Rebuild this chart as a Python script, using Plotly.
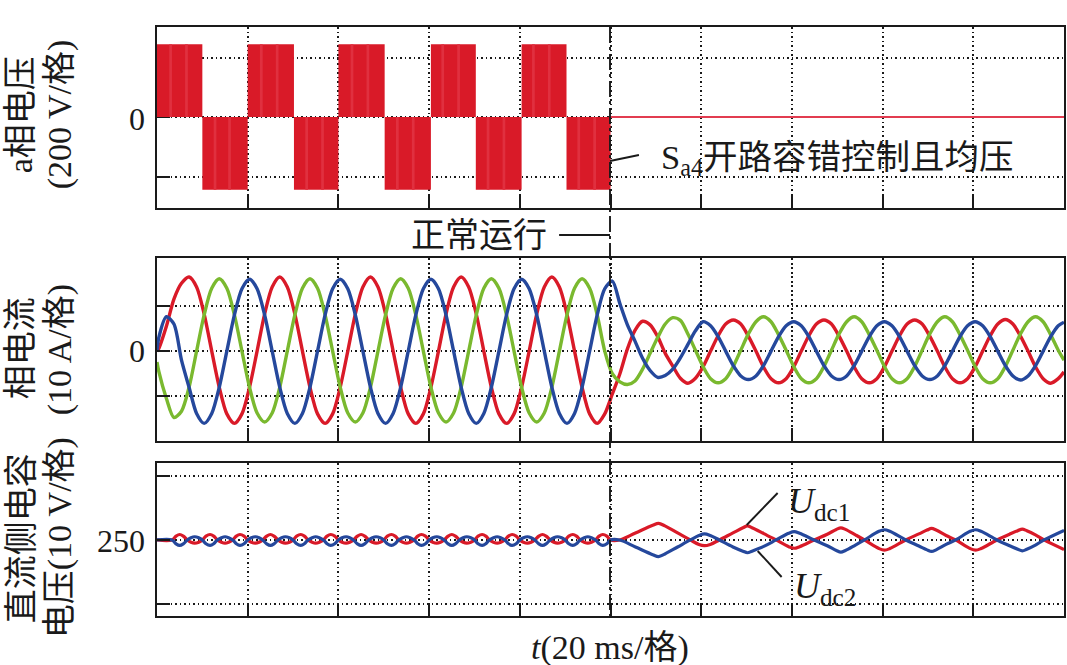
import plotly.graph_objects as go
from plotly.subplots import make_subplots

# a-phase voltage blocks, ms edges
block_edges = [0, 10, 20, 30.2, 40, 50.2, 60.4, 70.3, 80.4, 90.3, 100]
block_volts = [245, -245, 245, -245, 245, -245, 245, -245, 245, -245]
stripe_t = [3, 6.5, 12.8, 16, 23, 26.5, 33, 36.5, 43, 46.5, 53, 56.5, 63, 66.5, 73, 76.5, 83, 86.5, 93, 96.5]
stripe_v = [245, 245, -245, -245, 245, 245, -245, -245, 245, 245, -245, -245, 245, 245, -245, -245, 245, 245, -245, -245]
fault_t = [100, 200]
fault_v = [0, 0]

# phase currents, one row per 20 ms period
current_t = [
    0,
    0.4, 2.07, 3.73, 5.4, 7.07, 8.73, 10.4, 12.07, 13.73, 15.4, 17.07, 18.73,
    20.4, 22.07, 23.73, 25.4, 27.07, 28.73, 30.4, 32.07, 33.73, 35.4, 37.07, 38.73,
    40.4, 42.07, 43.73, 45.4, 47.07, 48.73, 50.4, 52.07, 53.73, 55.4, 57.07, 58.73,
    60.4, 62.07, 63.73, 65.4, 67.07, 68.73, 70.4, 72.07, 73.73, 75.4, 77.07, 78.73,
    80.4, 82.07, 83.73, 85.4, 87.07, 88.73, 90.4, 92.07, 93.73, 95.4, 97.07, 98.73,
    100.4, 102.07, 103.73, 105.4, 107.07, 108.73, 110.4, 112.07, 113.73, 115.4, 117.07, 118.73,
    120.4, 122.07, 123.73, 125.4, 127.07, 128.73, 130.4, 132.07, 133.73, 135.4, 137.07, 138.73,
    140.4, 142.07, 143.73, 145.4, 147.07, 148.73, 150.4, 152.07, 153.73, 155.4, 157.07, 158.73,
    160.4, 162.07, 163.73, 165.4, 167.07, 168.73, 170.4, 172.07, 173.73, 175.4, 177.07, 178.73,
    180.4, 182.07, 183.73, 185.4, 187.07, 188.73, 190.4, 192.07, 193.73, 195.4, 197.07, 198.73,
    200,
]
current_a = [
    0,
    0.6, 5.5, 11.5, 15, 16.4, 14.2, 8.2, 0, -8, -13.9, -16, -13.9,
    -8, 0, 8.2, 14.2, 16.4, 14.2, 8.2, 0, -8, -13.9, -16, -13.9,
    -8, 0, 8.2, 14.2, 16.4, 14.2, 8.2, 0, -8, -13.9, -16, -13.9,
    -8, 0, 8.2, 14.2, 16.4, 14.2, 8.2, 0, -8, -13.9, -16, -13.9,
    -8, 0, 8.2, 14.2, 16.4, 14.2, 8.2, 0, -8, -13.9, -16, -13.9,
    -9.5, -5, 0.5, 4.6, 6.6, 5.8, 3.2, -0.5, -3.3, -6, -7.1, -6,
    -3.5, 0, 3.4, 6, 6.9, 6, 3.3, 0, -3.5, -6.1, -7, -6.1,
    -3.5, 0, 3.4, 6, 6.9, 6, 3.3, 0, -3.5, -6.1, -7, -6.1,
    -3.5, 0, 3.4, 6, 6.9, 6, 3.3, 0, -3.5, -6.1, -7, -6.1,
    -3.5, 0, 3.4, 6, 7, 6, 3.3, 0, -3.5, -6.1, -7.1, -6.1,
    -4.6,
]
current_b = [
    -2.4,
    -4.5, -10.5, -14.7, -13.3, -8, 0, 8, 13.9, 16, 13.9, 8, 0,
    -8, -13.7, -15.7, -13.7, -8, 0, 8, 13.9, 16, 13.9, 8, 0,
    -8, -13.7, -15.7, -13.7, -8, 0, 8, 13.9, 16, 13.9, 8, 0,
    -8, -13.7, -15.7, -13.7, -8, 0, 8, 13.9, 16, 13.9, 8, 0,
    -8, -13.7, -15.7, -13.7, -8, 0, 8, 13.9, 16, 13.9, 8, 0,
    -5, -6.8, -7.4, -6.6, -4, -0.5, 3, 6, 7.4, 6.8, 3.8, 0.2,
    -3.4, -6.1, -7, -6.1, -3.4, 0.2, 3.8, 6.5, 7.6, 6.5, 3.6, 0.2,
    -3.4, -6.1, -7, -6.1, -3.4, 0.2, 3.8, 6.5, 7.6, 6.5, 3.6, 0.2,
    -3.4, -6.1, -7, -6.1, -3.4, 0.2, 3.8, 6.5, 7.6, 6.5, 3.6, 0.2,
    -3.4, -6.1, -7, -6.1, -3.4, 0.2, 3.8, 6.5, 7.6, 6.5, 3.6, 0.2,
    -2,
]
current_c = [
    0,
    3, 7.6, 6, -2, -8, -13.8, -16, -13.8, -8, 0, 8, 13.8,
    15.9, 13.8, 8, 0, -8, -13.8, -16, -13.8, -8, 0, 8, 13.8,
    15.9, 13.8, 8, 0, -8, -13.8, -16, -13.8, -8, 0, 8, 13.8,
    15.9, 13.8, 8, 0, -8, -13.8, -16, -13.8, -8, 0, 8, 13.8,
    15.9, 13.8, 8, 0, -8, -13.8, -16, -13.8, -8, 0, 8, 13.8,
    15.5, 10.5, 5.8, 2.2, -1.6, -4.3, -5.8, -5.4, -4, -1.5, 1.5, 4.5,
    6.5, 5.6, 3.2, 0, -3.2, -5.5, -6.3, -5.5, -3.2, 0, 3.2, 5.6,
    6.5, 5.6, 3.2, 0, -3.2, -5.5, -6.3, -5.5, -3.2, 0, 3.2, 5.6,
    6.5, 5.6, 3.2, 0, -3.2, -5.5, -6.3, -5.5, -3.2, 0, 3.2, 5.6,
    6.5, 5.6, 3.2, 0, -3.2, -5.5, -6.4, -5.5, -3.2, 0, 3.2, 5.6,
    6.4,
]

# dc-link capacitor voltages
dc_t = [
    0,
    3.3, 4.2, 5, 5.8, 6.7, 7.5, 8.3, 9.2, 10, 10.8, 11.7, 12.5, 13.3, 14.2, 15, 15.8, 16.7, 17.5, 18.3, 19.2, 20, 20.8, 21.7, 22.5,
    23.3, 24.2, 25, 25.8, 26.7, 27.5, 28.3, 29.2, 30, 30.8, 31.7, 32.5, 33.3, 34.2, 35, 35.8, 36.7, 37.5, 38.3, 39.2, 40, 40.8, 41.7, 42.5,
    43.3, 44.2, 45, 45.8, 46.7, 47.5, 48.3, 49.2, 50, 50.8, 51.7, 52.5, 53.3, 54.2, 55, 55.8, 56.7, 57.5, 58.3, 59.2, 60, 60.8, 61.7, 62.5,
    63.3, 64.2, 65, 65.8, 66.7, 67.5, 68.3, 69.2, 70, 70.8, 71.7, 72.5, 73.3, 74.2, 75, 75.8, 76.7, 77.5, 78.3, 79.2, 80, 80.8, 81.7, 82.5,
    83.3, 84.2, 85, 85.8, 86.7, 87.5, 88.3, 89.2, 90, 90.8, 91.7, 92.5, 93.3, 94.2, 95, 95.8, 96.7, 97.5, 98.3, 99.2,
    100, 102, 105.5, 109.3, 110.6, 112, 114.8, 117.6, 119.5, 120.7, 122, 124,
    127, 129.2, 130.2, 131.2, 133.8, 136.5, 139.3, 140.5, 141.7, 144.9,
    147.8, 149.8, 150.8, 151.8, 154, 156, 159.2, 160.4, 161.6, 165.1,
    168, 169.8, 170.8, 171.8, 174, 176.1, 179.3, 180.5, 181.7, 185.2,
    188, 189.8, 190.8, 191.8, 193.7, 195.6, 200,
]
dc_u1 = [
    250,
    250, 250.6, 250.85, 250.6, 250, 249.65, 249.5, 249.65, 250, 250.6, 250.85, 250.6, 250, 249.65, 249.5, 249.65, 250, 250.6, 250.85, 250.6, 250, 249.65, 249.5, 249.65,
    250, 250.6, 250.85, 250.6, 250, 249.65, 249.5, 249.65, 250, 250.6, 250.85, 250.6, 250, 249.65, 249.5, 249.65, 250, 250.6, 250.85, 250.6, 250, 249.65, 249.5, 249.65,
    250, 250.6, 250.85, 250.6, 250, 249.65, 249.5, 249.65, 250, 250.6, 250.85, 250.6, 250, 249.65, 249.5, 249.65, 250, 250.6, 250.85, 250.6, 250, 249.65, 249.5, 249.65,
    250, 250.6, 250.85, 250.6, 250, 249.65, 249.5, 249.65, 250, 250.6, 250.85, 250.6, 250, 249.65, 249.5, 249.65, 250, 250.6, 250.85, 250.6, 250, 249.65, 249.5, 249.65,
    250, 250.6, 250.85, 250.6, 250, 249.65, 249.5, 249.65, 250, 250.6, 250.85, 250.6, 250, 249.65, 249.5, 249.65, 250, 250.6, 250.85, 250.6,
    250, 250, 251.1, 252.3, 252.6, 252.2, 251.1, 250, 249.3, 249.1, 249.3, 250,
    251.1, 251.9, 252.2, 251.9, 251, 250, 248.95, 248.7, 248.95, 250,
    250.9, 251.65, 251.9, 251.65, 250.8, 250, 248.65, 248.4, 248.65, 250,
    250.95, 251.55, 251.8, 251.55, 250.7, 250, 248.65, 248.4, 248.65, 250,
    250.9, 251.45, 251.7, 251.45, 250.8, 250, 248.5,
]
dc_u2 = [
    250,
    250, 249.4, 249.15, 249.4, 250, 250.35, 250.5, 250.35, 250, 249.4, 249.15, 249.4, 250, 250.35, 250.5, 250.35, 250, 249.4, 249.15, 249.4, 250, 250.35, 250.5, 250.35,
    250, 249.4, 249.15, 249.4, 250, 250.35, 250.5, 250.35, 250, 249.4, 249.15, 249.4, 250, 250.35, 250.5, 250.35, 250, 249.4, 249.15, 249.4, 250, 250.35, 250.5, 250.35,
    250, 249.4, 249.15, 249.4, 250, 250.35, 250.5, 250.35, 250, 249.4, 249.15, 249.4, 250, 250.35, 250.5, 250.35, 250, 249.4, 249.15, 249.4, 250, 250.35, 250.5, 250.35,
    250, 249.4, 249.15, 249.4, 250, 250.35, 250.5, 250.35, 250, 249.4, 249.15, 249.4, 250, 250.35, 250.5, 250.35, 250, 249.4, 249.15, 249.4, 250, 250.35, 250.5, 250.35,
    250, 249.4, 249.15, 249.4, 250, 250.35, 250.5, 250.35, 250, 249.4, 249.15, 249.4, 250, 250.35, 250.5, 250.35, 250, 249.4, 249.15, 249.4,
    250, 250, 248.9, 247.7, 247.4, 247.8, 248.9, 250, 250.7, 250.95, 250.7, 250,
    248.9, 248.25, 248, 248.25, 249, 250, 251.05, 251.3, 251.05, 250,
    249.1, 248.35, 248.1, 248.35, 249.2, 250, 251.35, 251.6, 251.35, 250,
    249.05, 248.45, 248.2, 248.45, 249.3, 250, 251.35, 251.6, 251.35, 250,
    249.1, 248.55, 248.3, 248.55, 249.2, 250, 251.5,
]

red = "#d91a28"
green = "#7ab92f"
blue = "#25489c"
ink = "#1a1a1a"
serif = "Liberation Serif, Noto Sans CJK SC"

fig = make_subplots(rows=3, cols=1)

# top panel
widths = [b - a for a, b in zip(block_edges[:-1], block_edges[1:])]
mids = [(a + b) / 2 for a, b in zip(block_edges[:-1], block_edges[1:])]
fig.add_trace(go.Bar(x=mids, y=block_volts, width=widths, marker=dict(color=red, line=dict(width=0))), row=1, col=1)
fig.add_trace(go.Bar(x=stripe_t, y=stripe_v, width=0.6, marker=dict(color="#e0303f", line=dict(width=0))), row=1, col=1)
fig.add_trace(go.Scatter(x=fault_t, y=fault_v, mode="lines", line=dict(color="#e23c50", width=2)), row=1, col=1)

# middle panel
for vals, col in [(current_a, red), (current_b, green), (current_c, blue)]:
    fig.add_trace(go.Scatter(x=current_t, y=vals, mode="lines",
                             line=dict(color=col, width=3.4, shape="spline", smoothing=0.8)), row=2, col=1)

# bottom panel
for vals, col in [(dc_u1, red), (dc_u2, blue)]:
    fig.add_trace(go.Scatter(x=dc_t, y=vals, mode="lines",
                             line=dict(color=col, width=3.2, shape="spline", smoothing=1)), row=3, col=1)

axis_style = dict(showline=True, linecolor=ink, linewidth=2.2, mirror=True,
                  ticks="inside", ticklen=13, tickwidth=2.2, tickcolor=ink,
                  showgrid=True, gridcolor=ink, gridwidth=1.7, griddash="1.7px,2.8px",
                  zeroline=False, showticklabels=False)
x_ticks = [0, 20, 40, 60, 80, 100, 120, 140, 160, 180, 200]
for r, dom in [(1, [0.6927, 1]), (2, [0.2971, 0.6070]), (3, [0, 0.2593])]:
    fig.update_xaxes(range=[0, 200], tickvals=x_ticks, **axis_style, row=r, col=1)
    fig.update_yaxes(domain=dom, row=r, col=1, **axis_style)

fig.update_yaxes(range=[-306, 303], tickvals=[-200, 0, 200], layer="below traces", row=1, col=1)
fig.update_yaxes(range=[-19.9, 20.5], tickvals=[-10, 0, 10], row=2, col=1)
fig.update_yaxes(range=[238.1, 262], tickvals=[240, 250, 260], row=3, col=1)

PL, PR, PT, PB = 157, 1066, 27, 616


def px(x):
    return (x - PL) / (PR - PL)


def py(y):
    return (PB - y) / (PB - PT)


def label(text, x, y, angle=0, size=34, xanchor="center"):
    fig.add_annotation(text=text, x=px(x), y=py(y), xref="paper", yref="paper", showarrow=False,
                       textangle=angle, xanchor=xanchor, yanchor="middle",
                       font=dict(family=serif, size=size, color=ink))


def leader(x0, y0, x1, y1, dash="solid"):
    fig.add_shape(type="line", x0=px(x0), y0=py(y0), x1=px(x1), y1=py(y1), xref="paper", yref="paper",
                  line=dict(color=ink, width=1.9, dash=dash))


label("0", 147, 119, size=32, xanchor="right")
label("0", 147, 351, size=32, xanchor="right")
label("250", 147, 541, size=32, xanchor="right")

label("a相电压", 21, 115, -90)
label("(200 V/格)", 60, 114, -90)
label("相电流", 21, 348, -90)
label("(10 A/格)", 60, 350, -90)
label("直流侧电容", 21, 538, -90)
label("电压(10 V/格)", 60, 538, -90)

label("S<sub>a4</sub>开路容错控制且均压", 660, 159, size=34.5, xanchor="left")
label("正常运行", 480, 235)
label("<i>U</i><sub>dc1</sub>", 787, 503, size=36, xanchor="left")
label("<i>U</i><sub>dc2</sub>", 793, 588, size=36, xanchor="left")
label("<i>t</i>(20 ms/格)", 611, 648)

leader(611, 27, 611, 616, dash="16px,4px,3px,4px")
leader(560, 235, 611, 235)
leader(611, 161, 640, 155)
leader(748, 525, 779, 493)
leader(759, 551, 783, 577)

fig.update_layout(width=1067, height=665, showlegend=False, barmode="overlay",
                  margin=dict(l=PL, r=1067 - PR, t=PT, b=665 - PB),
                  paper_bgcolor="white", plot_bgcolor="white")

# the page's default 8 px body margin would push the figure off the window
fig.write_html("out.html", config={"displayModeBar": False}, post_script="document.body.style.margin='0';")
